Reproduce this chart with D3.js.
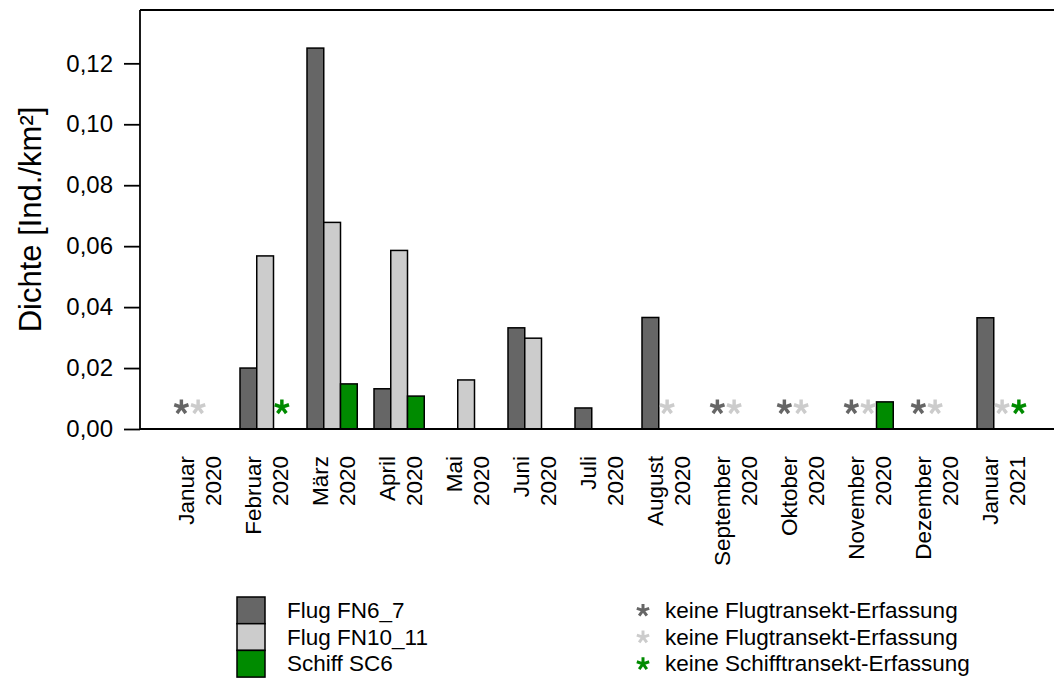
<!DOCTYPE html>
<html>
<head>
<meta charset="utf-8">
<script src="https://cdn.jsdelivr.net/npm/d3@7"></script>
<style>
  body { margin: 0; background: #fff; }
  text { font-family: "Liberation Sans", Arial, sans-serif; fill: #000; }
</style>
</head>
<body>
<div id="chart"></div>
<script>
const width = 1054, height = 679;

// Monate (zwei Zeilen pro Beschriftung)
const months = ["Januar", "Februar", "März", "April", "Mai", "Juni", "Juli", "August",
  "September", "Oktober", "November", "Dezember", "Januar"];
const years = ["2020", "2020", "2020", "2020", "2020", "2020", "2020", "2020",
  "2020", "2020", "2020", "2020", "2021"];

// Dichte [Ind./km²] je Erfassung
const fn6_7   = [null, 0.0200, 0.1250, 0.0132, null, 0.0332, 0.0069, 0.0366, null, null, null, null, 0.0365];
const fn10_11 = [null, 0.0568, 0.0678, 0.0586, 0.0161, 0.0298, null, null, null, null, null, null, null];
const sc6     = [null, null, 0.0148, 0.0108, null, null, null, null, null, null, 0.0089, null, null];

// Monate ohne Erfassung (Index)
const noFN6_7   = [0, 8, 9, 10, 11];
const noFN10_11 = [0, 7, 8, 9, 10, 11, 12];
const noSC6     = [1, 12];

const seriesNames = ["Flug FN6_7", "Flug FN10_11", "Schiff SC6"];
const starLabels = ["keine Flugtransekt-Erfassung", "keine Flugtransekt-Erfassung", "keine Schifftransekt-Erfassung"];
const yTicks = [0, 0.02, 0.04, 0.06, 0.08, 0.10, 0.12];

const colors = ["#666666", "#cccccc", "#008b00"];
const seriesData = [fn6_7, fn10_11, sc6];
const missing = [noFN6_7, noFN10_11, noSC6];

const plotLeft = 140, plotTop = 10, plotBottom = 429;

const svg = d3.select("#chart").append("svg")
  .attr("width", width).attr("height", height);

const y = d3.scaleLinear().domain([0, 0.1375]).range([plotBottom, plotTop]);

const x = d3.scaleBand().domain(d3.range(months.length))
  .range([156.25, 156.25 + 13.25 * 67])
  .paddingInner(0.25).paddingOuter(0.25);

const xs = d3.scaleBand().domain(d3.range(3)).range([0, x.bandwidth()]);

const locale = d3.formatLocale({ decimal: ",", thousands: ".", grouping: [3], currency: ["", "€"] });
const fmt = locale.format(".2f");

// fünfarmiger Stern wie das "*" aus R
const asterisk = {
  draw(ctx, size) {
    const r = Math.sqrt(size) / 2, w = r * 0.46;
    for (let k = 0; k < 5; k++) {
      const a = -Math.PI / 2 + k * 2 * Math.PI / 5;
      const dx = Math.cos(a), dy = Math.sin(a), px = -dy * w / 2, py = dx * w / 2;
      ctx.moveTo(px, py);
      ctx.lineTo(dx * r + px, dy * r + py);
      ctx.lineTo(dx * r - px, dy * r - py);
      ctx.lineTo(-px, -py);
      ctx.closePath();
    }
  }
};
const star = d3.symbol().type(asterisk).size(15 * 15);

// Balken
const bars = [];
seriesData.forEach((arr, s) => arr.forEach((v, i) => { if (v != null) bars.push({ s, i, v }); }));

svg.append("g").selectAll("rect")
  .data(bars)
  .join("rect")
  .attr("x", d => x(d.i) + xs(d.s))
  .attr("y", d => y(d.v))
  .attr("width", xs.bandwidth())
  .attr("height", d => y(0) - y(d.v))
  .attr("fill", d => colors[d.s])
  .attr("stroke", "#000")
  .attr("stroke-width", 1.5);

// Sterne für fehlende Erfassung
const stars = [];
missing.forEach((arr, s) => arr.forEach(i => stars.push({ s, i })));
const starLevel = 0.0072;

svg.append("g").selectAll("path")
  .data(stars)
  .join("path")
  .attr("transform", d => `translate(${x(d.i) + xs(d.s) + xs.bandwidth() / 2},${y(starLevel)})`)
  .attr("d", star)
  .attr("fill", d => colors[d.s]);

// Rahmen
const frame = svg.append("g").attr("stroke", "#000").attr("stroke-width", 1.8).attr("fill", "none");
frame.append("line").attr("x1", plotLeft).attr("x2", width).attr("y1", plotTop).attr("y2", plotTop);
frame.append("line").attr("x1", plotLeft).attr("x2", plotLeft).attr("y1", plotTop).attr("y2", plotBottom);
frame.append("line").attr("x1", plotLeft).attr("x2", width).attr("y1", plotBottom).attr("y2", plotBottom);

// y-Achse
const yAxis = svg.append("g")
  .attr("transform", `translate(${plotLeft},0)`)
  .call(d3.axisLeft(y).tickValues(yTicks).tickFormat(fmt).tickSize(16).tickPadding(11));
yAxis.select(".domain").remove();
yAxis.selectAll(".tick line").attr("stroke", "#000").attr("stroke-width", 1.8);
yAxis.selectAll(".tick text")
  .style("font-size", "24px")
  .style("font-family", "'Liberation Sans', Arial, sans-serif");

svg.append("text")
  .attr("transform", `translate(30,${(plotTop + plotBottom) / 2}) rotate(-90)`)
  .attr("text-anchor", "middle")
  .attr("dominant-baseline", "central")
  .style("font-size", "31px")
  .text("Dichte [Ind./km²]");

// x-Beschriftungen (gedreht, zweizeilig)
const xl = svg.append("g").selectAll("g")
  .data(months.map((m, i) => ({ m, yr: years[i], i })))
  .join("g")
  .attr("transform", d => `translate(${x(d.i) + x.bandwidth() / 2},456)`);

xl.append("text")
  .attr("transform", "translate(-12,0) rotate(-90)")
  .attr("text-anchor", "end")
  .attr("dominant-baseline", "central")
  .style("font-size", "22.5px")
  .text(d => d.m);

xl.append("text")
  .attr("transform", "translate(15,0) rotate(-90)")
  .attr("text-anchor", "end")
  .attr("dominant-baseline", "central")
  .style("font-size", "22.5px")
  .text(d => d.yr);

// Legende Balken
const leg = svg.append("g").selectAll("g")
  .data(seriesNames)
  .join("g")
  .attr("transform", (d, i) => `translate(237,${597 + i * 26.7})`);

leg.append("rect")
  .attr("width", 28).attr("height", 26.7)
  .attr("fill", (d, i) => colors[i])
  .attr("stroke", "#000").attr("stroke-width", 1.5);

leg.append("text")
  .attr("x", 50).attr("y", 13.4)
  .attr("dominant-baseline", "central")
  .style("font-size", "22.5px")
  .text(d => d);

// Legende Sterne
const leg2 = svg.append("g").selectAll("g")
  .data(starLabels)
  .join("g")
  .attr("transform", (d, i) => `translate(643,${597 + i * 26.7})`);

leg2.append("path")
  .attr("transform", "translate(0,13.4)")
  .attr("d", d3.symbol().type(asterisk).size(13 * 13))
  .attr("fill", (d, i) => colors[i]);

leg2.append("text")
  .attr("x", 22).attr("y", 13.4)
  .attr("dominant-baseline", "central")
  .style("font-size", "22.5px")
  .text(d => d);
</script>
</body>
</html>
